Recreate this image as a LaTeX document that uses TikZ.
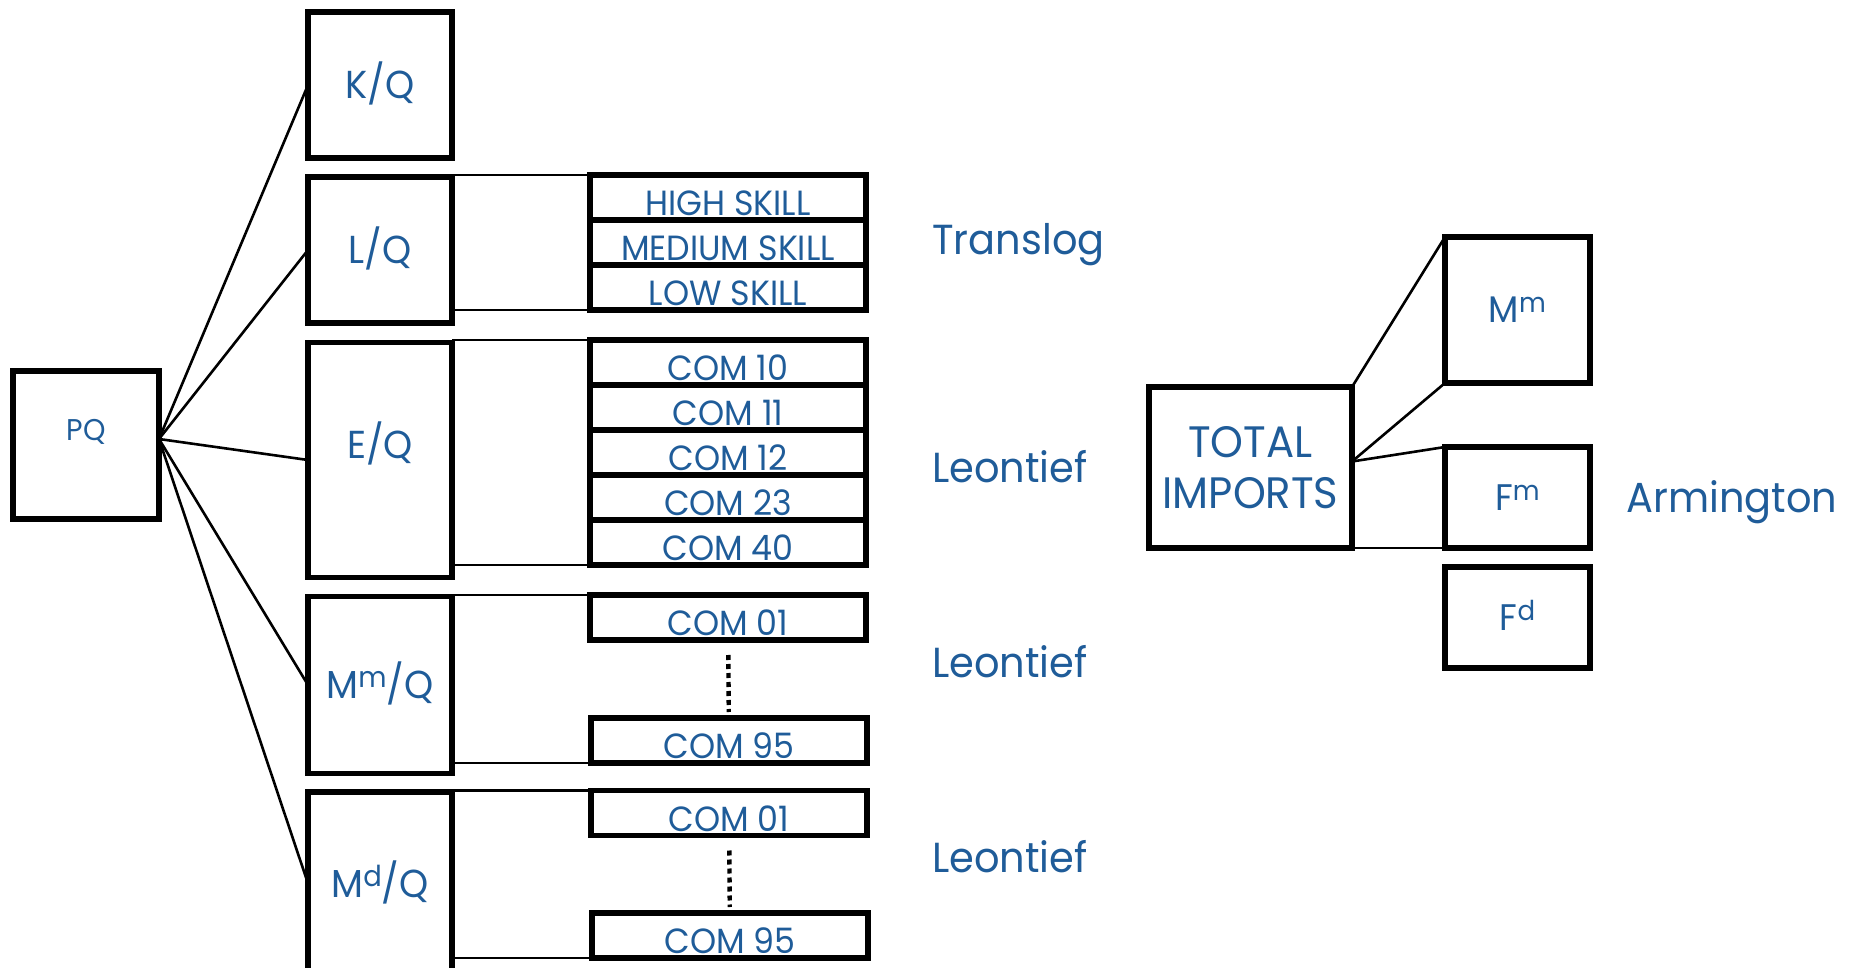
\documentclass[tikz,border=0pt]{standalone}
\usepackage{fontspec}
\setmainfont{Poppins}[FakeStretch=0.95]
\usetikzlibrary{positioning}
\definecolor{txtblue}{HTML}{1F5C99}
\newcommand{\upidx}[1]{\raisebox{0.28em}{\scalebox{0.74}{#1}}}

\begin{document}
\begin{tikzpicture}[x=0.5pt, y=-0.5pt,
    box/.style={rectangle, draw, line width=2.7pt, inner sep=0pt, outer sep=0pt, text=txtblue, align=center},
    share/.style={box, font=\fontsize{19.5}{24}\selectfont, minimum width=72pt, text height=13.6pt, text depth=0pt},
    sub/.style={box, font=\fontsize{17.5}{20}\selectfont, minimum width=138pt, minimum height=22.5pt, text height=18.2pt, text depth=0pt},
    imp/.style={box, font=\fontsize{18.5}{22}\selectfont, minimum width=72.5pt, text height=13pt, text depth=0pt},
    tag/.style={text=txtblue, font=\fontsize{21}{26}\selectfont, anchor=base west, inner sep=0pt},
    link/.style={line width=1.3pt},
    gap/.style={line width=2.2pt, dash pattern=on 2.5pt off 2pt, shorten <=7.5pt, shorten >=3pt},
    node distance=0pt
  ]
  \useasboundingbox (0,0) rectangle (1854,968);

  % Output and its input shares
  \node[box, font=\fontsize{15}{18}\selectfont, minimum width=73pt, minimum height=74pt,
        text height=10.5pt, text depth=15pt] (pq) at (86,445) {PQ};
  \node[share, minimum height=73pt] (kq) at (380,85) {K/Q};
  \node[share, minimum height=73pt] (lq) at (380,250) {L/Q};
  \node[share, minimum height=117.5pt, text depth=15pt] (eq) at (380,460) {E/Q};
  \node[share, minimum height=88.5pt] (mmq) at (380,685) {M\upidx{m}/Q};
  \node[share, minimum height=91.5pt] (mdq) at (380,883.5) {M\upidx{d}/Q};

  \draw[link] ([yshift=3pt]pq.east) -- (kq.west);
  \draw[link] ([yshift=3pt]pq.east) -- (lq.west);
  \draw[link] ([yshift=3pt]pq.east) -- (eq.west);
  \draw[link] ([yshift=3pt]pq.east) -- (mmq.west);
  \draw[link] ([yshift=3pt]pq.east) -- (mdq.west);

  % Labour by skill
  \node[sub] (hs) at (728,197.5) {HIGH SKILL};
  \node[sub, below=of hs] (ms) {MEDIUM SKILL};
  \node[sub, below=of ms] (ls) {LOW SKILL};
  \draw[link] (hs.north west) -- (hs.north west -| lq.east);
  \draw[link] (ls.south west) -- (ls.south west -| lq.east);

  % Energy commodities
  \node[sub] (c10) at (728,362.5) {COM 10};
  \node[sub, below=of c10] (c11) {COM 11};
  \node[sub, below=of c11] (c12) {COM 12};
  \node[sub, below=of c12] (c23) {COM 23};
  \node[sub, below=of c23] (c40) {COM 40};
  \draw[link] (c10.north west) -- (c10.north west -| eq.east);
  \draw[link] (c40.south west) -- (c40.south west -| eq.east);

  % Imported materials
  \node[sub] (mc01) at (728,617.5) {COM 01};
  \node[sub] (mc95) at (729,740.5) {COM 95};
  \draw[gap] (mc01) -- (mc95);
  \draw[link] (mc01.north west) -- (mc01.north west -| mmq.east);
  \draw[link] (mc95.south west) -- (mc95.south west -| mmq.east);

  % Domestic materials
  \node[sub] (dc01) at (729,813) {COM 01};
  \node[sub] (dc95) at (730,935.5) {COM 95};
  \draw[gap] (dc01) -- (dc95);
  \draw[link] (dc01.north west) -- (dc01.north west -| mdq.east);
  \draw[link] (dc95.south west) -- (dc95.south west -| mdq.east);

  \node[tag] (translog) at (932,255) {Translog};
  \node[tag] (leon1) at (932,482) {Leontief};
  \node[tag] (leon2) at (932,677) {Leontief};
  \node[tag] (leon3) at (932,872) {Leontief};

  % Import aggregate
  \node[box, font=\fontsize{22}{25.5}\selectfont, minimum width=101.5pt, minimum height=80.5pt] (ti) at (1250.5,467.5) {TOTAL\\IMPORTS};
  \node[imp, minimum height=73pt] (mm) at (1517.5,310) {M\upidx{m}};
  \node[imp, minimum height=50.5pt] (fm) at (1517.5,497.5) {F\upidx{m}};
  \node[imp, minimum height=50.5pt] (fd) at (1517.5,617.5) {F\upidx{d}};
  \draw[link] (ti.north east) -- (mm.north west);
  \draw[link] ([yshift=3pt]ti.east) -- (mm.south west);
  \draw[link] ([yshift=3pt]ti.east) -- (fm.north west);
  \draw[link] (ti.south east) -- (fm.south west);
  \node[tag] (arm) at (1626,512) {Armington};

\end{tikzpicture}
\end{document}
